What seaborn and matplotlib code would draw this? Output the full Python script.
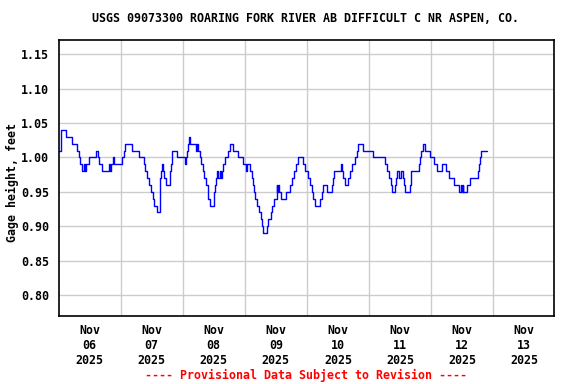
import pandas as pd
import matplotlib
matplotlib.use("Agg")
import matplotlib.pyplot as plt
import seaborn as sns

# Change points: hours after Nov 06 2025 00:00, gage height (ft)
hours = [0.0, 1.0, 3.0, 5.3, 7.1, 7.9, 8.4, 9.2, 9.7, 10.1, 10.5, 11.7, 14.5, 15.2,
         15.7, 17.0, 19.5, 19.9, 20.3, 21.0, 21.4, 24.6, 25.3, 25.7, 28.4, 31.0,
         32.9, 33.6, 34.3, 35.0, 35.7, 36.4, 37.1, 37.9, 39.2, 39.6, 40.0, 40.4,
         40.8, 41.4, 43.2, 43.6, 43.9, 45.9, 49.0, 49.3, 49.8, 50.2, 50.6, 51.0,
         53.3, 53.6, 53.9, 54.6, 55.0, 55.9, 56.3, 57.0, 57.6, 57.9, 58.5, 60.1,
         60.6, 61.0, 61.3, 61.7, 62.3, 62.7, 63.0, 63.4, 64.3, 65.6, 66.2, 67.5,
         69.4, 71.4, 72.6, 73.0, 73.9, 74.6, 75.2, 75.6, 76.1, 76.9, 77.4, 78.1,
         78.7, 79.2, 80.4, 80.8, 82.1, 82.6, 83.3, 84.3, 84.5, 84.9, 85.4, 85.9,
         87.8, 89.4, 90.1, 91.1, 91.8, 92.7, 94.6, 95.4, 96.5, 97.2, 97.8, 98.5,
         99.3, 101.0, 101.7, 102.3, 103.7, 105.6, 105.9, 106.4, 109.2, 109.7,
         110.1, 110.7, 111.8, 112.7, 113.6, 114.6, 115.2, 115.9, 117.6, 121.7,
         126.2, 126.9, 127.8, 128.4, 128.8, 130.1, 130.5, 130.7, 131.6, 132.3,
         133.0, 133.6, 134.0, 135.8, 136.3, 139.2, 139.8, 140.2, 140.7, 141.5,
         143.4, 145.0, 146.3, 148.2, 149.9, 150.8, 152.7, 154.9, 155.7, 156.0,
         156.2, 156.4, 157.9, 159.2, 162.1, 162.6, 163.0, 163.4, 165.6]
gage = [1.01, 1.04, 1.03, 1.02, 1.01, 1.00, 0.99, 0.98, 0.99, 0.98, 0.99, 1.00, 1.01, 1.00,
        0.99, 0.98, 0.99, 0.98, 0.99, 1.00, 0.99, 1.00, 1.01, 1.02, 1.01, 1.00,
        0.99, 0.98, 0.97, 0.96, 0.95, 0.94, 0.93, 0.92, 0.97, 0.98, 0.99, 0.98,
        0.97, 0.96, 0.98, 0.99, 1.01, 1.00, 0.99, 1.00, 1.01, 1.02, 1.03, 1.02,
        1.01, 1.02, 1.01, 1.00, 0.99, 0.98, 0.97, 0.96, 0.95, 0.94, 0.93, 0.95,
        0.96, 0.97, 0.98, 0.97, 0.98, 0.97, 0.98, 0.99, 1.00, 1.01, 1.02, 1.01,
        1.00, 0.99, 0.98, 0.99, 0.98, 0.97, 0.96, 0.95, 0.94, 0.93, 0.92, 0.91,
        0.90, 0.89, 0.90, 0.91, 0.92, 0.93, 0.94, 0.96, 0.95, 0.96, 0.95, 0.94,
        0.95, 0.96, 0.97, 0.98, 0.99, 1.00, 0.99, 0.98, 0.97, 0.96, 0.95, 0.94,
        0.93, 0.94, 0.95, 0.96, 0.95, 0.96, 0.97, 0.98, 0.99, 0.98,
        0.97, 0.96, 0.97, 0.98, 0.99, 1.00, 1.01, 1.02, 1.01, 1.00,
        0.99, 0.98, 0.97, 0.96, 0.95, 0.96, 0.97, 0.98, 0.97, 0.98,
        0.97, 0.96, 0.95, 0.96, 0.98, 0.99, 1.00, 1.01, 1.02, 1.01,
        1.00, 0.99, 0.98, 0.99, 0.98, 0.97, 0.96, 0.95, 0.96, 0.95,
        0.96, 0.95, 0.96, 0.97, 0.98, 0.99, 1.00, 1.01, 1.01]

days = ["06", "07", "08", "09", "10", "11", "12", "13"]
y_ticks = [0.80, 0.85, 0.90, 0.95, 1.00, 1.05, 1.10, 1.15]

start = pd.Timestamp("2025-11-06")
df = pd.DataFrame({"time": start + pd.to_timedelta(hours, unit="h"), "gage": gage})

sns.set_style("white")
plt.rcParams["font.family"] = ["DejaVu Sans Mono"]
plt.rcParams["font.weight"] = "bold"
plt.rcParams["text.color"] = "black"
plt.rcParams["xtick.color"] = "black"
plt.rcParams["ytick.color"] = "black"
fs = 8.4

fig = plt.figure(figsize=(5.76, 3.84), dpi=100)
ax = fig.add_axes([58.5 / 576, 1 - 316 / 384, (554 - 58.5) / 576, 276 / 384])

sns.lineplot(data=df, x="time", y="gage", ax=ax, color="#0000ff", linewidth=1.0,
             drawstyle="steps-post", estimator=None)

ax.set_xlim(start, start + pd.Timedelta(hours=191.5))
ax.set_ylim(0.7695, 1.1708)

noon = [start + pd.Timedelta(days=i, hours=12) for i in range(len(days))]
midnight = [start + pd.Timedelta(days=i) for i in range(1, 8)]
ax.set_xticks(noon)
ax.set_xticklabels([f"Nov\n{d}\n2025" for d in days], fontsize=fs, fontweight="bold",
                   linespacing=1.2, color="black")
ax.set_xticks(midnight, minor=True)
ax.set_yticks(y_ticks)
ax.set_yticklabels([f"{v:.2f}" for v in y_ticks], fontsize=fs, fontweight="bold",
                   color="black")
ax.tick_params(axis="both", which="both", length=0)
ax.tick_params(axis="x", pad=6)
ax.tick_params(axis="y", pad=7)

ax.grid(False)
ax.xaxis.grid(True, which="minor", color="#cccccc", linewidth=1)
ax.yaxis.grid(True, which="major", color="#cccccc", linewidth=1)
ax.set_axisbelow(True)
for s in ax.spines.values():
    s.set_color("black")
    s.set_linewidth(1.2)

ax.set_xlabel("")
ax.set_ylabel("")
fig.text(12 / 576, 1 - 183 / 384, "Gage height, feet", rotation=90, ha="center",
         va="center", fontsize=fs, fontweight="bold", color="black")
fig.text(306 / 576, 1 - 19 / 384,
         "USGS 09073300 ROARING FORK RIVER AB DIFFICULT C NR ASPEN, CO.",
         ha="center", va="center", fontsize=fs, fontweight="bold", color="black")
fig.text(306 / 576, 1 - 375 / 384, "---- Provisional Data Subject to Revision ----",
         ha="center", va="center", fontsize=fs, fontweight="bold", color="red")

fig.savefig("out.png", dpi=100)
